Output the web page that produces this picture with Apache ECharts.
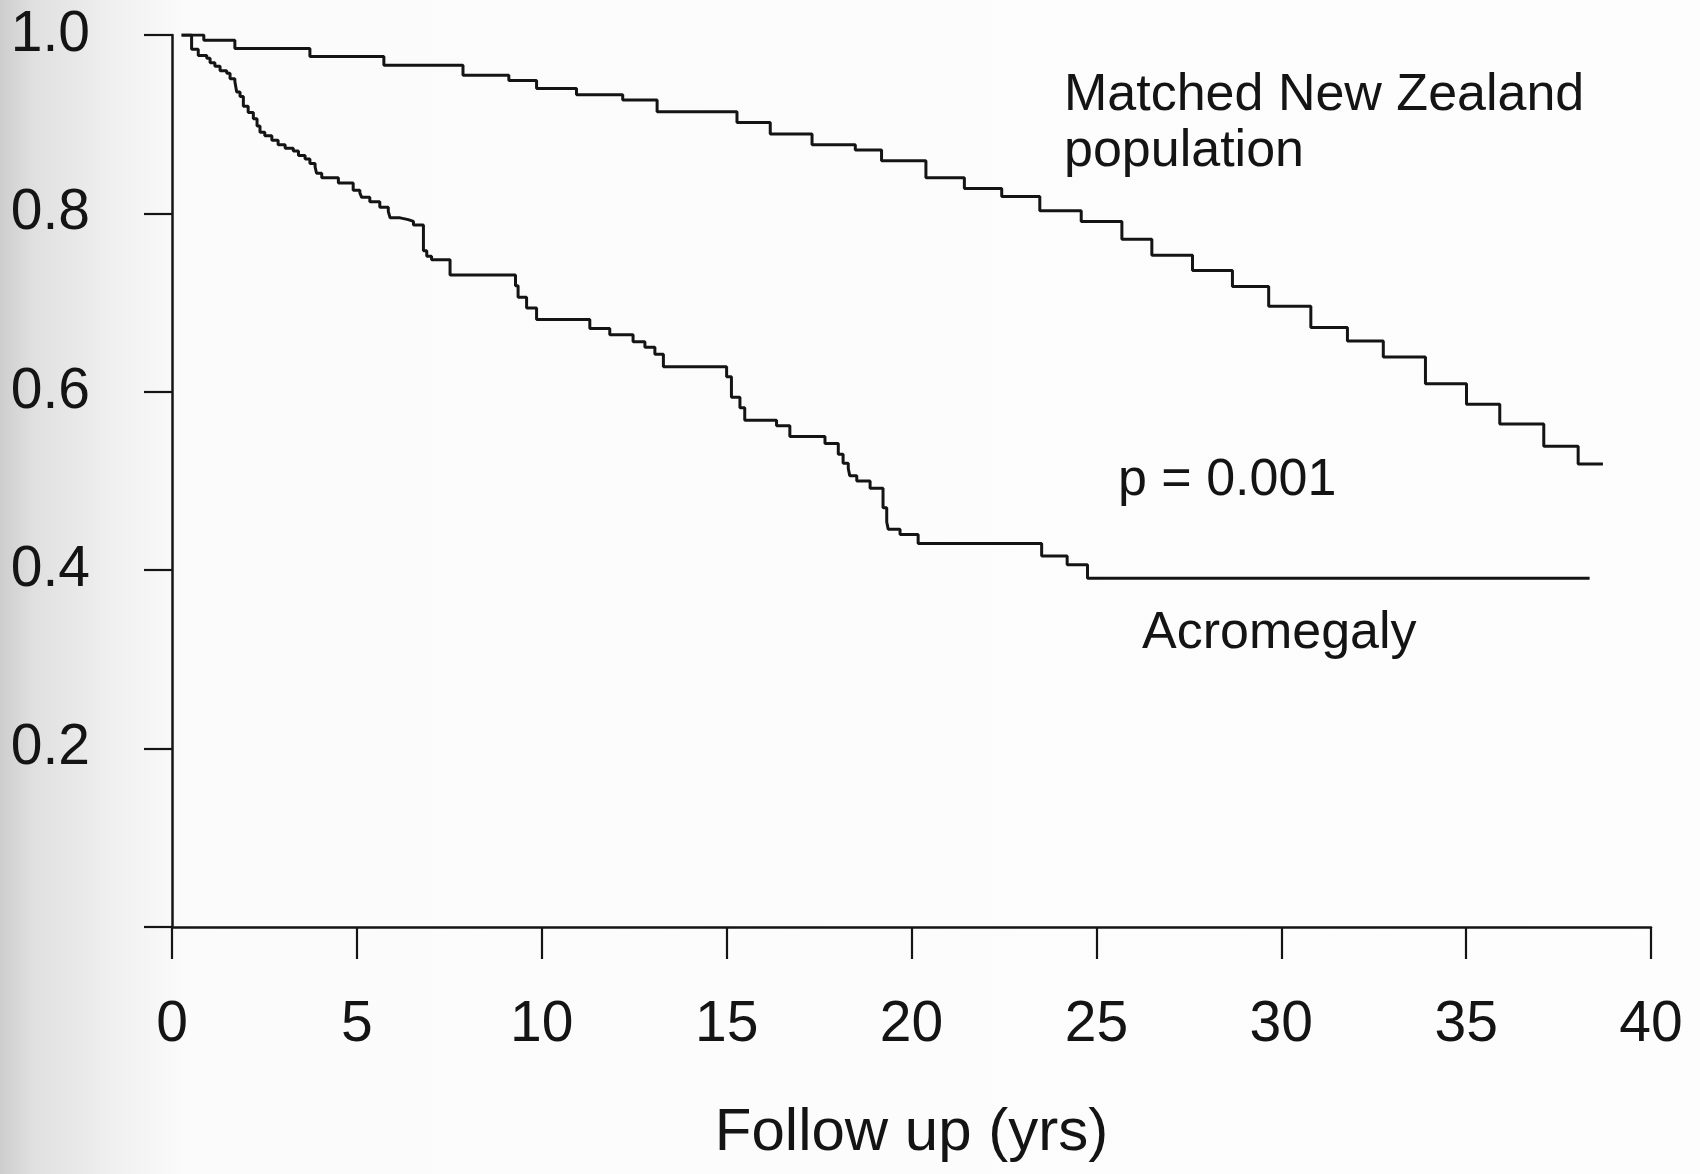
<!DOCTYPE html>
<html>
<head>
<meta charset="utf-8">
<script src="https://cdn.jsdelivr.net/npm/echarts@6.0.0/dist/echarts.min.js"></script>
<style>
  html, body { margin: 0; padding: 0; background: #fdfdfd; }
  #chart { width: 1700px; height: 1174px; }
</style>
</head>
<body>
<div id="chart"></div>
<script>
// ---- Data ----
const xTicks = [0, 5, 10, 15, 20, 25, 30, 35, 40];
const yTicks = [0.2, 0.4, 0.6, 0.8, 1.0];

// Matched New Zealand population (Kaplan-Meier step points: time in years, survival)
const nzTimes = [0.26, 0.86, 1.70, 3.73, 5.73, 7.87, 9.11, 9.86, 10.94, 12.19, 13.12, 15.28, 16.18, 17.31, 18.48, 19.19, 20.39, 21.43, 22.44, 23.47, 24.59, 25.69, 26.50, 27.60, 28.68, 29.66, 30.80, 31.79, 32.76, 33.90, 35.01, 35.91, 37.10, 38.03, 38.70];
const nzSurv  = [1.000, 0.994, 0.985, 0.976, 0.966, 0.955, 0.949, 0.940, 0.933, 0.927, 0.914, 0.902, 0.889, 0.877, 0.871, 0.859, 0.840, 0.828, 0.819, 0.803, 0.791, 0.771, 0.753, 0.736, 0.718, 0.696, 0.672, 0.657, 0.639, 0.609, 0.586, 0.564, 0.539, 0.519, 0.519];

// Acromegaly
const acroTimes = [0.26, 0.53, 0.71, 0.94, 1.03, 1.16, 1.30, 1.48, 1.57, 1.70, 1.75, 1.84, 1.93, 2.06, 2.20, 2.30, 2.38, 2.51, 2.70, 2.87, 3.06, 3.28, 3.42, 3.60, 3.73, 3.87, 3.91, 4.05, 4.50, 4.90, 5.08, 5.13, 5.35, 5.62, 5.85, 5.90, 6.17, 6.39, 6.53, 6.80, 6.89, 7.02, 7.52, 9.29, 9.36, 9.59, 9.86, 11.30, 11.84, 12.47, 12.79, 13.06, 13.29, 15.00, 15.13, 15.36, 15.49, 16.35, 16.71, 17.66, 18.02, 18.15, 18.29, 18.33, 18.52, 18.88, 19.23, 19.33, 19.37, 19.69, 20.18, 23.52, 24.21, 24.76, 38.34];
const acroSurv  = [1.000, 0.984, 0.977, 0.974, 0.969, 0.965, 0.960, 0.957, 0.951, 0.948, 0.936, 0.931, 0.920, 0.913, 0.906, 0.898, 0.891, 0.887, 0.882, 0.877, 0.873, 0.870, 0.865, 0.861, 0.856, 0.852, 0.845, 0.840, 0.834, 0.826, 0.823, 0.818, 0.813, 0.807, 0.802, 0.795, 0.793, 0.791, 0.787, 0.758, 0.752, 0.748, 0.731, 0.719, 0.706, 0.694, 0.681, 0.671, 0.664, 0.656, 0.650, 0.642, 0.628, 0.617, 0.594, 0.582, 0.568, 0.562, 0.550, 0.542, 0.530, 0.520, 0.514, 0.506, 0.500, 0.492, 0.470, 0.454, 0.446, 0.440, 0.430, 0.416, 0.406, 0.391, 0.391];

const xAxisName = 'Follow up (yrs)';
const labelNZ = ['Matched New Zealand', 'population'];
const labelP = 'p = 0.001';
const labelAcro = 'Acromegaly';

// ---- Build ----
const zip = (a, b) => a.map((v, i) => [v, b[i]]);
const FONT = '"Liberation Sans", Arial, Helvetica, sans-serif';
const INK = '#141414';

const chart = echarts.init(document.getElementById('chart'), null, { renderer: 'canvas' });

const option = {
  animation: false,
  backgroundColor: {
    type: 'linear', x: 0, y: 0, x2: 1, y2: 0,
    colorStops: [
      { offset: 0, color: '#cdcdcd' },
      { offset: 0.02, color: '#e0e0e0' },
      { offset: 0.07, color: '#f1f1f1' },
      { offset: 0.11, color: '#fbfbfb' },
      { offset: 1, color: '#fdfdfd' }
    ]
  },
  grid: { left: 172, right: 49, top: 35, bottom: 247, containLabel: false },
  xAxis: {
    type: 'value',
    min: xTicks[0], max: xTicks[xTicks.length - 1], interval: 5,
    name: xAxisName,
    nameLocation: 'middle',
    nameGap: 176,
    nameTextStyle: { fontFamily: FONT, fontSize: 60, color: INK },
    axisLine: { show: true, onZero: false, lineStyle: { color: INK, width: 2.5 } },
    axisTick: { show: true, inside: false, length: 32, lineStyle: { color: INK, width: 2.2 } },
    axisLabel: { margin: 70, fontFamily: FONT, fontSize: 57, color: INK, showMinLabel: true, showMaxLabel: true },
    splitLine: { show: false }
  },
  yAxis: {
    type: 'value',
    min: 0, max: 1, interval: 0.2,
    axisLine: { show: true, lineStyle: { color: INK, width: 2.5 } },
    axisTick: { show: true, inside: false, length: 28, lineStyle: { color: INK, width: 2.2 } },
    axisLabel: {
      margin: 82, fontFamily: FONT, fontSize: 57, color: INK,
      showMaxLabel: true,
      formatter: v => (yTicks.some(t => Math.abs(t - v) < 1e-9) ? v.toFixed(1) : '')
    },
    splitLine: { show: false }
  },
  series: [
    {
      name: 'Matched New Zealand population',
      type: 'line', step: 'end', showSymbol: false, symbol: 'none',
      data: zip(nzTimes, nzSurv),
      lineStyle: { color: INK, width: 3 }
    },
    {
      name: 'Acromegaly',
      type: 'line', step: 'end', showSymbol: false, symbol: 'none',
      data: zip(acroTimes, acroSurv),
      lineStyle: { color: INK, width: 3 }
    }
  ],
  graphic: [
    { type: 'text', left: 1064, top: 70, style: { text: labelNZ[0], font: '52px ' + FONT, fill: INK } },
    { type: 'text', left: 1064, top: 126, style: { text: labelNZ[1], font: '52px ' + FONT, fill: INK } },
    { type: 'text', left: 1118, top: 455, style: { text: labelP, font: '52px ' + FONT, fill: INK } },
    { type: 'text', left: 1142, top: 608, style: { text: labelAcro, font: '52px ' + FONT, fill: INK } }
  ]
};
chart.setOption(option);
</script>
</body>
</html>
